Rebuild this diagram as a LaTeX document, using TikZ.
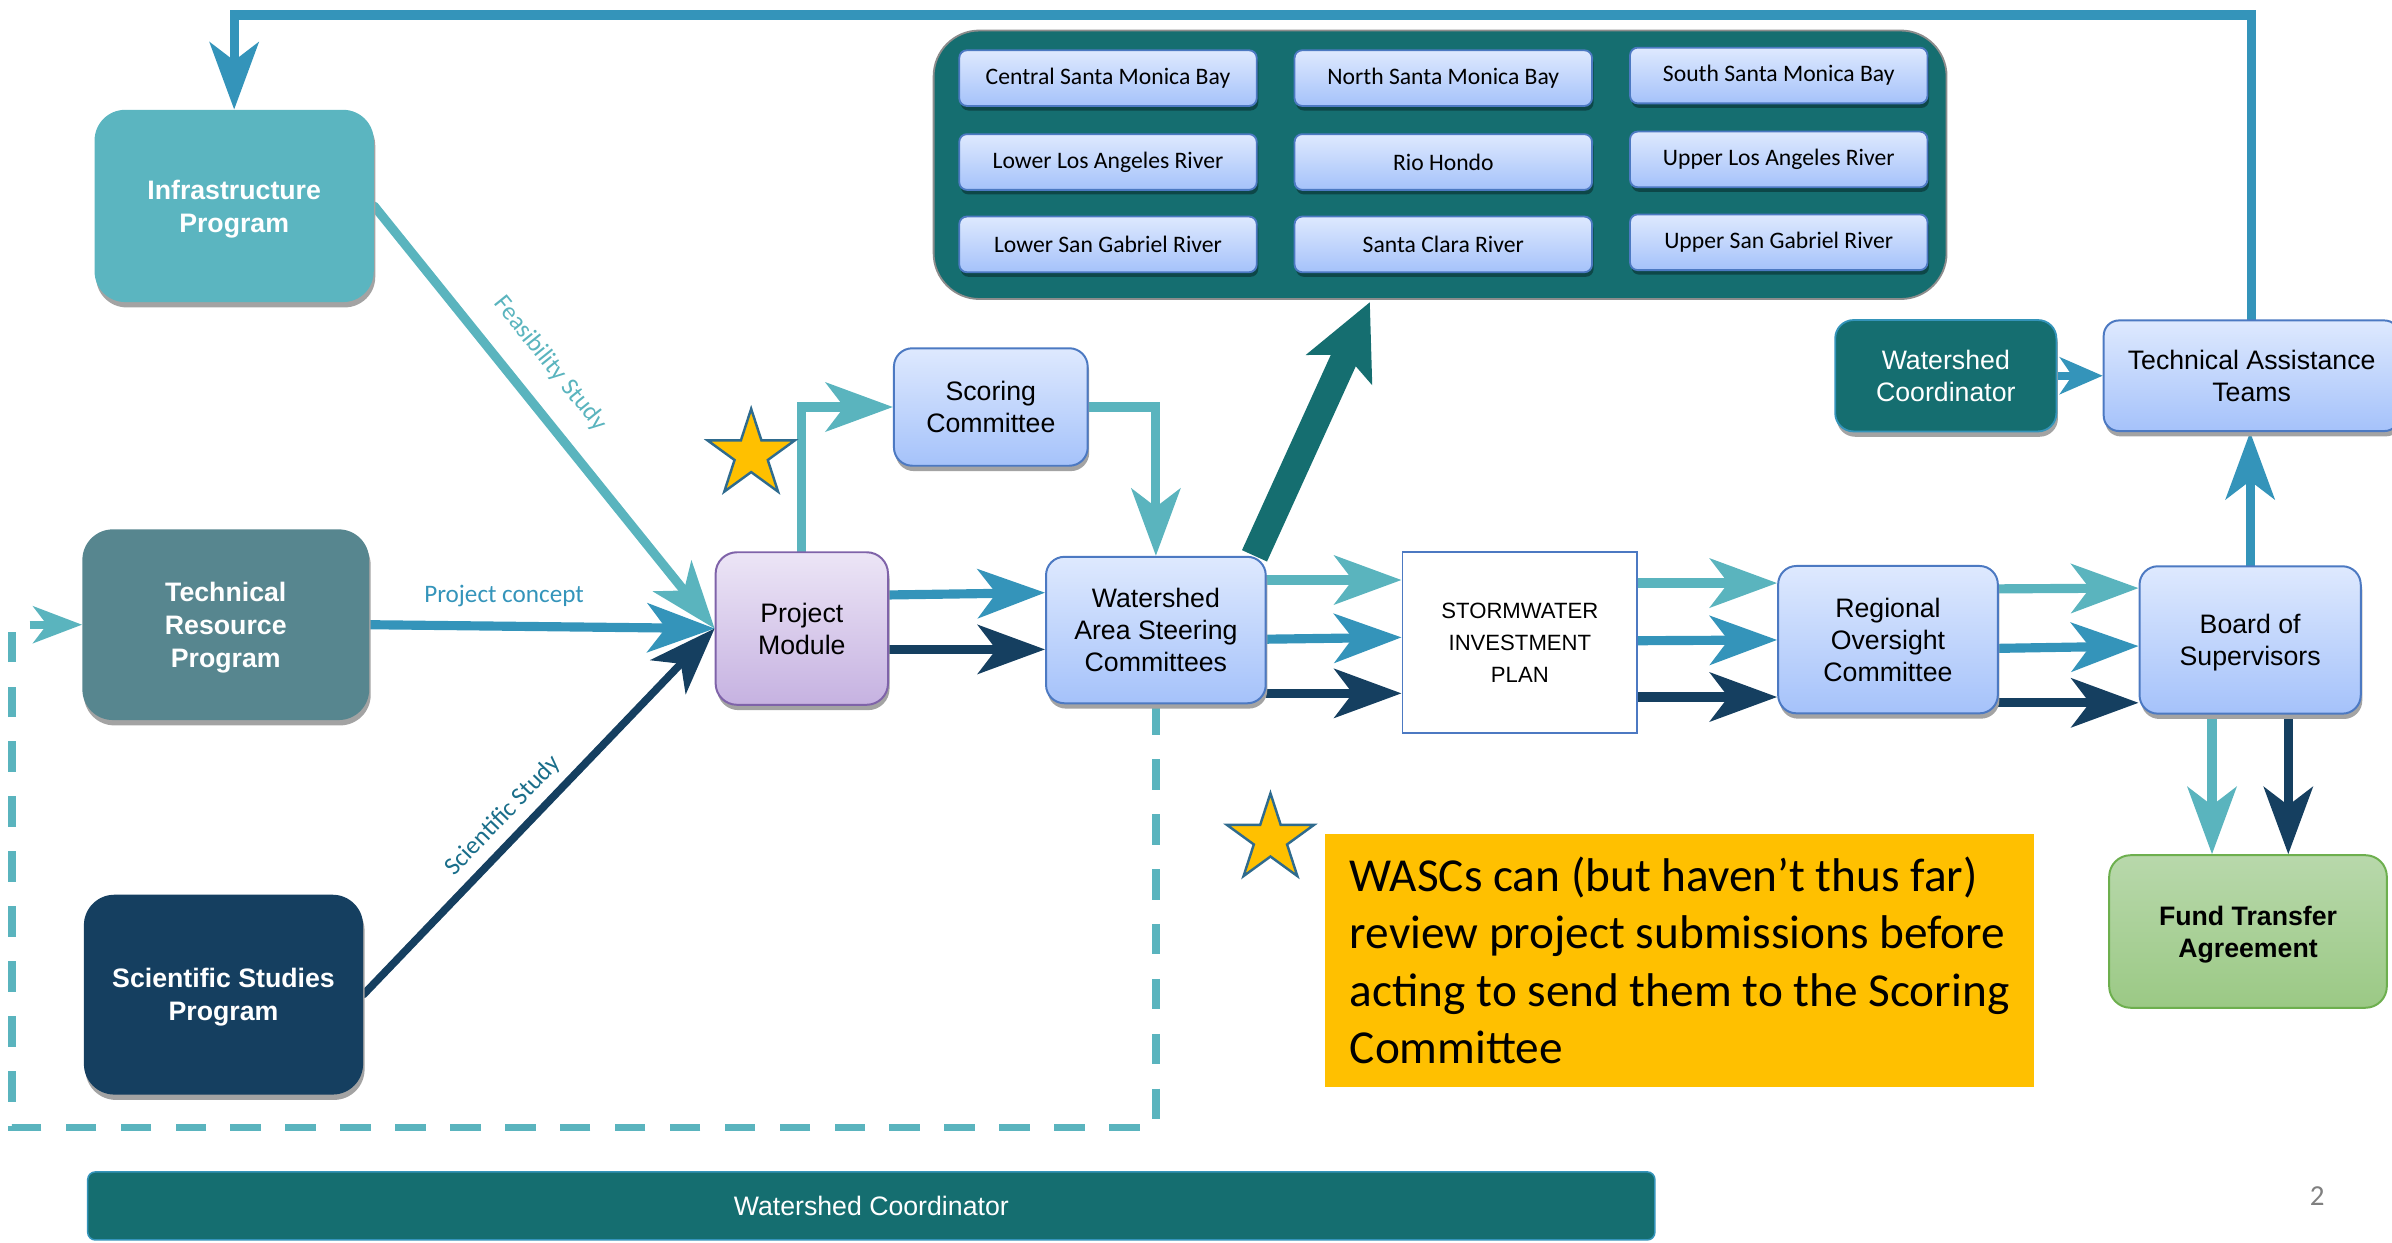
\documentclass[tikz,border=0pt]{standalone}
\usepackage{fontspec}
\setmainfont{Liberation Sans}
\newfontfamily\calib{Carlito}
\usetikzlibrary{arrows.meta,shapes.geometric,shadows,calc}
\pgfdeclarelayer{bg}
\pgfsetlayers{bg,main}
\newcommand\setfs[2]{\fontsize{#1}{#2}\selectfont}
\definecolor{cTeal}{HTML}{5AB4BE}
\definecolor{cBlue}{HTML}{3494BA}
\definecolor{cNavy}{HTML}{153F60}
\definecolor{cDark}{HTML}{156E70}
\definecolor{cTRP}{HTML}{57868F}
\definecolor{cInf}{HTML}{5BB5C0}
\definecolor{cBoxTop}{HTML}{DEE9FE}
\definecolor{cBoxBot}{HTML}{A5C2FA}
\definecolor{cBoxLine}{HTML}{4C79C2}
\definecolor{cPMTop}{HTML}{ECE5F6}
\definecolor{cPMBot}{HTML}{C6B2E1}
\definecolor{cPMLine}{HTML}{7F63A9}
\definecolor{cFTATop}{HTML}{B8D8AB}
\definecolor{cFTABot}{HTML}{9BC985}
\definecolor{cFTALine}{HTML}{6DAF4E}
\definecolor{cStar}{HTML}{FFC000}
\definecolor{cStarLine}{HTML}{2F6B8E}
\definecolor{cSci}{HTML}{1A6E8A}
\begin{document}
\begin{tikzpicture}[x=1pt,y=-1pt,
  shad/.style={drop shadow={shadow xshift=1pt,shadow yshift=-3.5pt,fill=black!36,opacity=1}},
  prog/.style={shad,rounded corners=20pt,text=white,align=center,font=\bfseries\setfs{17.5}{21.5},inner sep=0pt,text depth=0pt},
  bbox/.style={shad,rounded corners=12pt,draw=cBoxLine,line width=1.3pt,top color=cBoxTop,bottom color=cBoxBot,align=center,font=\setfs{17.5}{21},inner sep=0pt,text depth=0pt},
  dist/.style={rounded corners=5pt,draw=cBoxLine,line width=1.2pt,top color=cBoxTop,bottom color=cBoxBot,font=\calib\setfs{15.5}{18},minimum width=195pt,minimum height=36.5pt,inner sep=0pt,drop shadow={shadow xshift=1pt,shadow yshift=-3pt,fill=black,opacity=0.35}},
  flow/.style={line width=6pt,line cap=round,-{Stealth[length=44pt,width=32pt,inset=12pt]}},
  dashflow/.style={cTeal,line width=5pt,line cap=butt,dash pattern=on 20pt off 16pt,-{Stealth[length=32pt,width=24pt,inset=9pt]}},
  lbl/.style={font=\calib\setfs{16.5}{19},inner sep=0pt},
  starnode/.style={star,star points=5,star point ratio=2.618,minimum size=60pt,inner sep=0pt,fill=cStar,draw=cStarLine,line width=1.6pt}
]
\useasboundingbox (0,0) rectangle (1568,814.2);
\clip (0,0) rectangle (1568,814.2);

% container of areas
\node[rounded corners=30pt,fill=cDark,draw=black!45,line width=1.2pt,minimum width=664pt,minimum height=176pt,inner sep=0pt] (cont) at (944,108) {};
\node[dist] (d11) at (726.3,51.2) {Central Santa Monica Bay};
\node[dist] (d12) at (946.1,51.2) {North Santa Monica Bay};
\node[dist] (d13) at (1166,49.5) {South Santa Monica Bay};
\node[dist] (d21) at (726.3,106.2) {Lower Los Angeles River};
\node[dist] (d22) at (946.1,106.2) {Rio Hondo};
\node[dist] (d23) at (1166,104.5) {Upper Los Angeles River};
\node[dist] (d31) at (726.3,160.2) {Lower San Gabriel River};
\node[dist] (d32) at (946.1,160.2) {Santa Clara River};
\node[dist] (d33) at (1166,158.8) {Upper San Gabriel River};

% program boxes
\node[prog,fill=cInf,minimum width=183pt,minimum height=126pt] (inf) at (153.5,135) {Infrastructure\\Program};
\node[prog,fill=cTRP,minimum width=188pt,minimum height=125pt] (trp) at (148,409.5) {Technical\\Resource\\Program};
\node[prog,fill=cNavy,minimum width=183pt,minimum height=131pt] (ssp) at (146.5,652) {Scientific Studies\\Program};

% process boxes
\node[bbox,rounded corners=14pt,draw=cPMLine,top color=cPMTop,bottom color=cPMBot,minimum width=113pt,minimum height=100pt] (pm) at (525.6,412) {Project\\Module};
\node[bbox,minimum width=127pt,minimum height=77pt] (sc) at (649.5,266.8) {Scoring\\Committee};
\node[bbox,minimum width=144pt,minimum height=96pt] (wasc) at (757.7,413) {Watershed\\Area Steering\\Committees};
\node[draw=cBoxLine,line width=1.2pt,fill=white,minimum width=154pt,minimum height=118.7pt,inner sep=0pt,align=center,font=\setfs{14.5}{21},text depth=0pt] (sip) at (996.3,421.3) {STORMWATER\\INVESTMENT\\PLAN};
\node[bbox,minimum width=144pt,minimum height=96.6pt] (roc) at (1237.6,419.3) {Regional\\Oversight\\Committee};
\node[bbox,minimum width=145pt,minimum height=96.6pt] (bos) at (1475,419.5) {Board of\\Supervisors};
\node[bbox,rounded corners=10pt,minimum width=194pt,minimum height=72.5pt] (tat) at (1476,246.3) {Technical Assistance\\Teams};
\node[shad,rounded corners=12pt,fill=cDark,draw=cBlue,line width=1.2pt,text=white,align=center,font=\setfs{17.5}{21},inner sep=0pt,text depth=0pt,minimum width=145pt,minimum height=73pt] (wc) at (1275.5,246.3) {Watershed\\Coordinator};
\node[rounded corners=14pt,draw=cFTALine,line width=1.3pt,top color=cFTATop,bottom color=cFTABot,align=center,font=\bfseries\setfs{17.5}{21},inner sep=0pt,text depth=0pt,minimum width=182pt,minimum height=100pt] (fta) at (1473.6,610.6) {Fund Transfer\\Agreement};

% stars, note, bar
\node[starnode] (star1) at (492.4,298) {};
\node[starnode] (star2) at (832.8,550) {};
\node[fill=cStar,minimum width=465pt,minimum height=165.7pt,inner sep=0pt,align=left,font=\calib\setfs{31}{37.7}] (note) at (1101,629.5) {WASCs can (but haven’t thus far)\\review project submissions before\\acting to send them to the Scoring\\Committee};
\node[rounded corners=5pt,fill=cDark,draw=cBlue,line width=1pt,minimum width=1027.3pt,minimum height=44.6pt,inner sep=0pt,text=white,font=\setfs{17.5}{21}] (bar) at (571.15,790.5) {Watershed Coordinator};
\node[font=\calib\setfs{19}{22},text=black!50,inner sep=0pt] (pnum) at (1519,784) {2};

\coordinate (bigtip) at (898,198);

\begin{pgfonlayer}{bg}
% inputs to project module
\draw[flow,cTeal] (inf.east) -- node[sloped,above=15pt,pos=0.43,lbl,text=cTeal] {Feasibility Study} (pm.west);
\draw[flow,cBlue] (trp.east) -- node[above=10pt,pos=0.39,lbl,text=cBlue] {Project concept} (pm.west);
\draw[flow,cNavy,line width=5pt] (ssp.east) -- node[sloped,above=5.5pt,pos=0.445,lbl,text=cSci] {Scientific Study} (pm.west);
% scoring loop
\draw[flow,cTeal] (pm.north) |- (sc.west);
\draw[flow,cTeal] (sc.east) -| (wasc.north);
% PM -> WASC
\draw[flow,cBlue] (pm.east |- 0,390) -- (wasc.west |- 0,388.5);
\draw[flow,cNavy] (pm.east |- 0,425.7) -- (wasc.west |- 0,425.7);
% WASC -> SIP
\draw[flow,cTeal] (wasc.east |- 0,380.2) -- (sip.west |- 0,380.2);
\draw[flow,cBlue] (wasc.east |- 0,419) -- (sip.west |- 0,417.8);
\draw[flow,cNavy] (wasc.east |- 0,454.5) -- (sip.west |- 0,454.5);
% SIP -> ROC
\draw[flow,cTeal] (sip.east |- 0,382.2) -- (roc.west |- 0,382.2);
\draw[flow,cBlue] (sip.east |- 0,420) -- (roc.west |- 0,419.5);
\draw[flow,cNavy] (sip.east |- 0,456.9) -- (roc.west |- 0,456.9);
% ROC -> BoS
\draw[flow,cTeal] (roc.east |- 0,386) -- (bos.west |- 0,385.5);
\draw[flow,cBlue] (roc.east |- 0,425) -- (bos.west |- 0,423.5);
\draw[flow,cNavy] (roc.east |- 0,460.7) -- (bos.west |- 0,460.7);
% BoS -> TAT, FTA
\draw[flow,cBlue] (bos.north) -- (bos.north |- tat.south);
\draw[flow,cTeal] ([xshift=-25pt]bos.south) -- ([xshift=-25pt]bos.south |- fta.north);
\draw[flow,cNavy] ([xshift=25pt]bos.south) -- ([xshift=25pt]bos.south |- fta.north);
\draw[cBlue,line width=5pt,-{Stealth[length=28pt,width=24pt,inset=8pt]}] (wc.east) -- (tat.west);
% feedback loop
\draw[flow,cBlue] (tat.north) -- (tat.north |- 0,9.8) -| (inf.north);
% dashed loop
\draw[dashflow] (wasc.south) -- (wasc.south |- 0,739) -- (8,739) -- (8,409.5) -- (trp.west);
% big arrow
\draw[cDark,line width=18pt,-{Stealth[length=48pt,width=46pt,inset=10pt]}] ([xshift=-8pt]wasc.north east) -- (bigtip);
\end{pgfonlayer}
\end{tikzpicture}
\end{document}
